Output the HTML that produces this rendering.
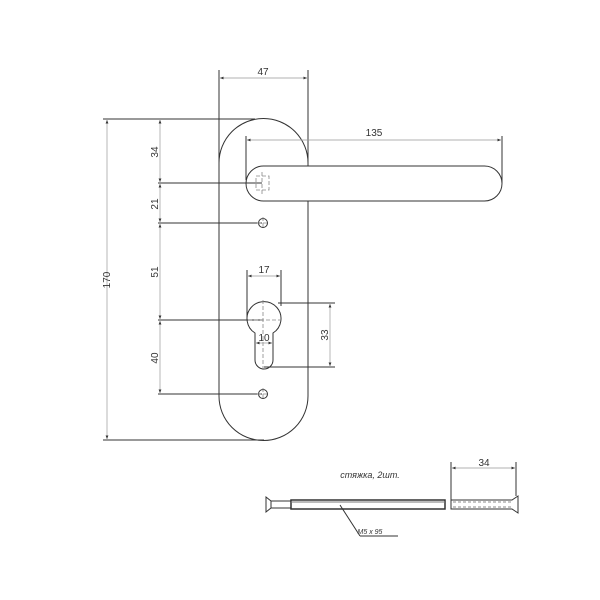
<!DOCTYPE html>
<html><head><meta charset="utf-8"><style>body{margin:0;background:#fff}svg{display:block}text{font-family:"Liberation Sans",sans-serif;fill:#333}</style></head><body>
<svg width="600" height="600" viewBox="0 0 600 600" xmlns="http://www.w3.org/2000/svg">
<defs><marker id="a" markerWidth="6" markerHeight="6" refX="5" refY="3" orient="auto-start-reverse"><path d="M0,1 L5,3 L0,5 Z" fill="#333"/></marker></defs>
<g fill="none" stroke="#333" stroke-width="1">
<path d="M219,396 L219,163 A44.5,44.5 0 0 1 308,163 L308,166 M308,201 L308,396"/>
<path d="M219,396 A44.5,44.5 0 0 0 263.5,440.5 A44.5,44.5 0 0 0 308,396"/>
<rect x="246" y="166" width="256" height="35" rx="17.5"/>
<line x1="219" y1="70" x2="219" y2="163"/>
<line x1="308" y1="70" x2="308" y2="166"/>
<line x1="103" y1="119" x2="255" y2="119"/>
<line x1="103" y1="440" x2="264" y2="440"/>
<line x1="246" y1="136" x2="246" y2="180"/>
<line x1="502" y1="136" x2="502" y2="183"/>
<line x1="158" y1="183" x2="262" y2="183"/>
<line x1="158" y1="223" x2="262" y2="223"/>
<line x1="158" y1="320" x2="263" y2="320"/>
<line x1="158" y1="394" x2="262" y2="394"/>
<path d="M255,333 A17,17 0 1 1 273,333 L273,360 A9,9 0 0 1 255,360 Z"/>
<line x1="247" y1="270" x2="247" y2="320"/>
<line x1="281" y1="270" x2="281" y2="306"/>
<line x1="278" y1="303" x2="335" y2="303"/>
<line x1="264" y1="367" x2="335" y2="367"/>
<circle cx="263" cy="223" r="4.5"/>
<circle cx="263" cy="394" r="4.5"/>
</g>
<g stroke="#888" stroke-width="0.8" stroke-dasharray="4,2" fill="none">
<line x1="263" y1="300" x2="263" y2="372"/><line x1="248" y1="320" x2="280" y2="320"/>
<rect x="256" y="176" width="13" height="14"/><line x1="262" y1="172" x2="262" y2="195"/>
<line x1="263" y1="217" x2="263" y2="229"/><line x1="257" y1="223" x2="269" y2="223"/>
<line x1="263" y1="388" x2="263" y2="400"/><line x1="257" y1="394" x2="269" y2="394"/>
</g>
<g stroke="#999" stroke-width="0.7" fill="none" marker-start="url(#a)" marker-end="url(#a)">
<line x1="107" y1="120" x2="107" y2="439"/>
<line x1="160" y1="120" x2="160" y2="182"/>
<line x1="160" y1="184" x2="160" y2="222"/>
<line x1="160" y1="224" x2="160" y2="319"/>
<line x1="160" y1="321" x2="160" y2="393"/>
<line x1="220" y1="78" x2="307" y2="78"/>
<line x1="247" y1="140" x2="501" y2="140"/>
<line x1="248" y1="276" x2="280" y2="276"/>
<line x1="256" y1="343" x2="272" y2="343"/>
<line x1="330" y1="304" x2="330" y2="366"/>
<line x1="452" y1="468" x2="515" y2="468"/>
</g>
<g font-size="10">
<text x="263" y="75" text-anchor="middle">47</text>
<text x="374" y="136" text-anchor="middle">135</text>
<text x="264" y="273" text-anchor="middle">17</text>
<text x="264" y="341" text-anchor="middle">10</text>
<text x="484" y="466" text-anchor="middle">34</text>
<text transform="translate(110,280) rotate(-90)" text-anchor="middle">170</text>
<text transform="translate(158,152) rotate(-90)" text-anchor="middle">34</text>
<text transform="translate(158,204) rotate(-90)" text-anchor="middle">21</text>
<text transform="translate(158,272) rotate(-90)" text-anchor="middle">51</text>
<text transform="translate(158,358) rotate(-90)" text-anchor="middle">40</text>
<text transform="translate(328,335) rotate(-90)" text-anchor="middle">33</text>
<text x="370" y="478" text-anchor="middle" font-style="italic" font-size="9">стяжка, 2шт.</text>
<text x="370" y="534" text-anchor="middle" font-style="italic" font-size="7">M5 x 95</text>
</g>
<g stroke="#333" fill="none" stroke-width="1">
<path d="M266,497 L271,501 L271,508 L266,512 Z"/>
<rect x="271" y="501" width="20" height="7"/>
<rect x="291" y="500" width="154" height="9" stroke-width="1.5"/>
<line x1="291" y1="502" x2="445" y2="502" stroke="#777"/>
<path d="M451,500 L512,500 L518,496 L518,513 L512,509 L451,509 Z"/>
<line x1="451" y1="462" x2="451" y2="500"/>
<line x1="516" y1="462" x2="516" y2="496"/>
<line x1="340" y1="505" x2="360" y2="536"/>
<line x1="360" y1="536" x2="398" y2="536"/>
</g>
<g stroke="#666" stroke-dasharray="3,2" stroke-width="0.8"><line x1="453" y1="502" x2="512" y2="502"/><line x1="453" y1="507" x2="512" y2="507"/></g>
</svg>
</body></html>
